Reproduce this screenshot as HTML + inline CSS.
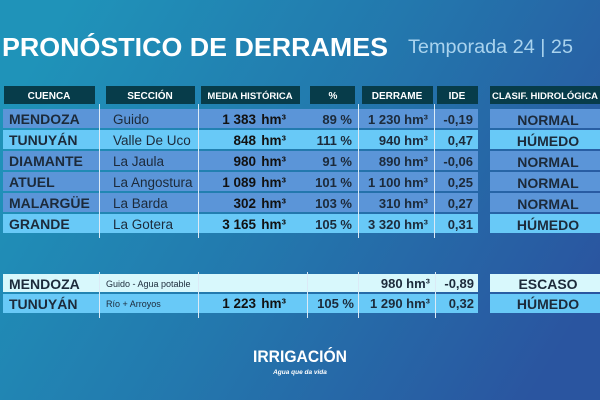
<!DOCTYPE html>
<html><head><meta charset="utf-8"><style>
html,body{margin:0;padding:0;width:600px;height:400px;overflow:hidden}
svg{display:block}
text{font-family:"Liberation Sans",sans-serif}
</style></head><body>
<svg width="600" height="400" viewBox="0 0 600 400" xmlns="http://www.w3.org/2000/svg">
<defs>
<linearGradient id="bg" x1="0" y1="0.3" x2="1" y2="0.7">
<stop offset="0" stop-color="#1f93b9"/>
<stop offset="0.5" stop-color="#2377ad"/>
<stop offset="1" stop-color="#2a55a0"/>
</linearGradient>
</defs>
<rect width="600" height="400" fill="url(#bg)"/>
<text x="2" y="56" font-size="26" font-weight="bold" fill="#fff" textLength="386" lengthAdjust="spacingAndGlyphs">PRONÓSTICO DE DERRAMES</text>
<text x="408" y="53" font-size="19" fill="#a9d3ee" textLength="165" lengthAdjust="spacingAndGlyphs">Temporada 24 | 25</text>

<g fill="#073c4a">
<rect x="4" y="86" width="91" height="18"/>
<rect x="106" y="86" width="89" height="18"/>
<rect x="201" y="86" width="99" height="18"/>
<rect x="310" y="86" width="45" height="18"/>
<rect x="362" y="86" width="71" height="18"/>
<rect x="437" y="86" width="41" height="18"/>
<rect x="490" y="86" width="110" height="18"/>
</g>
<g fill="#fff" font-size="10" font-weight="bold" text-anchor="middle">
<text x="49" y="99">CUENCA</text>
<text x="150" y="99">SECCIÓN</text>
<text x="250" y="99" font-size="9.5">MEDIA HISTÓRICA</text>
<text x="333" y="99">%</text>
<text x="397" y="99">DERRAME</text>
<text x="457" y="99">IDE</text>
<text x="545" y="99" font-size="9.5">CLASIF. HIDROLÓGICA</text>
</g>

<g>
<rect x="3" y="109" width="475" height="19" fill="#5b95d8"/>
<rect x="3" y="130" width="475" height="19" fill="#68c9f7"/>
<rect x="3" y="151" width="475" height="19" fill="#5b95d8"/>
<rect x="3" y="172" width="475" height="19" fill="#5b95d8"/>
<rect x="3" y="193" width="475" height="19" fill="#5b95d8"/>
<rect x="3" y="214" width="475" height="19" fill="#68c9f7"/>
<rect x="490" y="109" width="110" height="19" fill="#5b95d8"/>
<rect x="490" y="130" width="110" height="19" fill="#68c9f7"/>
<rect x="490" y="151" width="110" height="19" fill="#5b95d8"/>
<rect x="490" y="172" width="110" height="19" fill="#5b95d8"/>
<rect x="490" y="193" width="110" height="19" fill="#5b95d8"/>
<rect x="490" y="214" width="110" height="19" fill="#68c9f7"/>
</g>
<g stroke="#dbeaf6" stroke-width="1">
<line x1="99.5" y1="104" x2="99.5" y2="238"/>
<line x1="198.5" y1="104" x2="198.5" y2="238"/>
<line x1="358.5" y1="104" x2="358.5" y2="238"/>
<line x1="434.5" y1="104" x2="434.5" y2="238"/>
</g>
<g fill="#1c2a3a" font-size="14" font-weight="bold">
<text x="9" y="124">MENDOZA</text>
<text x="9" y="145">TUNUYÁN</text>
<text x="9" y="166">DIAMANTE</text>
<text x="9" y="187">ATUEL</text>
<text x="9" y="208">MALARGÜE</text>
<text x="9" y="229">GRANDE</text>
</g>
<g fill="#1c2a3a" font-size="13.5">
<text x="113" y="124">Guido</text>
<text x="113" y="145">Valle De Uco</text>
<text x="113" y="166">La Jaula</text>
<text x="113" y="187">La Angostura</text>
<text x="113" y="208">La Barda</text>
<text x="113" y="229">La Gotera</text>
</g>
<g fill="#111" font-size="13.5" font-weight="bold" text-anchor="end">
<text x="256" y="124">1 383</text><text x="286" y="124">hm³</text>
<text x="256" y="145">848</text><text x="286" y="145">hm³</text>
<text x="256" y="166">980</text><text x="286" y="166">hm³</text>
<text x="256" y="187">1 089</text><text x="286" y="187">hm³</text>
<text x="256" y="208">302</text><text x="286" y="208">hm³</text>
<text x="256" y="229">3 165</text><text x="286" y="229">hm³</text>
</g>
<g fill="#1c2a3a" font-size="13" font-weight="bold" text-anchor="end">
<text x="352" y="124">89 %</text>
<text x="352" y="145">111 %</text>
<text x="352" y="166">91 %</text>
<text x="352" y="187">101 %</text>
<text x="352" y="208">103 %</text>
<text x="352" y="229">105 %</text>
<text x="428" y="124">1 230 hm³</text>
<text x="428" y="145">940 hm³</text>
<text x="428" y="166">890 hm³</text>
<text x="428" y="187">1 100 hm³</text>
<text x="428" y="208">310 hm³</text>
<text x="428" y="229">3 320 hm³</text>
<text x="473" y="124">-0,19</text>
<text x="473" y="145">0,47</text>
<text x="473" y="166">-0,06</text>
<text x="473" y="187">0,25</text>
<text x="473" y="208">0,27</text>
<text x="473" y="229">0,31</text>
</g>
<g fill="#1c2a3a" font-size="14" font-weight="bold" text-anchor="middle">
<text x="548" y="125">NORMAL</text>
<text x="548" y="146">HÚMEDO</text>
<text x="548" y="167">NORMAL</text>
<text x="548" y="188">NORMAL</text>
<text x="548" y="209">NORMAL</text>
<text x="548" y="230">HÚMEDO</text>
</g>

<rect x="3" y="274" width="475" height="18" fill="#d8f8fc"/>
<rect x="3" y="294" width="475" height="19" fill="#68c9f7"/>
<rect x="490" y="274" width="110" height="18" fill="#d8f8fc"/>
<rect x="490" y="294" width="110" height="19" fill="#68c9f7"/>
<g stroke="#dbeaf6" stroke-width="1">
<line x1="99.5" y1="272" x2="99.5" y2="318"/>
<line x1="198.5" y1="272" x2="198.5" y2="318"/>
<line x1="307.5" y1="272" x2="307.5" y2="318"/>
<line x1="358.5" y1="272" x2="358.5" y2="318"/>
<line x1="435.5" y1="272" x2="435.5" y2="318"/>
</g>
<g fill="#1c2a3a" font-size="14" font-weight="bold">
<text x="9" y="289">MENDOZA</text>
<text x="9" y="309">TUNUYÁN</text>
</g>
<g fill="#1c2a3a" font-size="9">
<text x="106" y="287">Guido - Agua potable</text>
<text x="106" y="307">Río + Arroyos</text>
</g>
<g fill="#111" font-size="13.5" font-weight="bold" text-anchor="end">
<text x="256" y="308">1 223</text><text x="286" y="308">hm³</text>
</g>
<g fill="#1c2a3a" font-size="13" font-weight="bold" text-anchor="end">
<text x="354" y="308">105 %</text>
<text x="430" y="288">980  hm³</text>
<text x="430" y="308">1 290 hm³</text>
<text x="474" y="288">-0,89</text>
<text x="474" y="308">0,32</text>
</g>
<g fill="#1c2a3a" font-size="14" font-weight="bold" text-anchor="middle">
<text x="548" y="289">ESCASO</text>
<text x="548" y="309">HÚMEDO</text>
</g>

<text x="300" y="362" font-size="17" font-weight="bold" fill="#fff" text-anchor="middle" textLength="94" lengthAdjust="spacingAndGlyphs">IRRIGACIÓN</text>
<text x="300" y="374" font-size="6.5" font-style="italic" font-weight="bold" fill="#fff" text-anchor="middle">Agua que da vida</text>
</svg>
</body></html>
